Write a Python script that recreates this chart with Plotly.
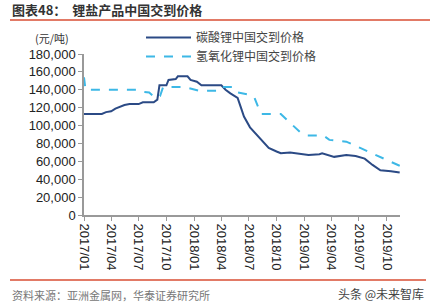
import plotly.graph_objects as go

# ---------------- data ----------------
carb_dates = ["2017-01-01", "2017-02-01", "2017-03-01", "2017-03-15", "2017-04-01", "2017-04-15",
              "2017-05-01", "2017-05-15", "2017-06-01", "2017-07-01", "2017-07-15", "2017-08-20",
              "2017-09-01", "2017-09-08", "2017-10-01", "2017-10-08", "2017-11-01", "2017-11-08",
              "2017-12-10", "2017-12-20", "2018-01-10", "2018-01-25", "2018-04-01", "2018-04-15",
              "2018-05-01", "2018-05-25", "2018-06-05", "2018-06-15", "2018-07-05", "2018-08-01",
              "2018-08-10", "2018-09-05", "2018-10-01", "2018-10-15", "2018-11-15", "2019-01-15",
              "2019-02-20", "2019-03-01", "2019-04-10", "2019-05-20", "2019-06-20", "2019-07-20",
              "2019-08-15", "2019-09-10", "2019-10-15", "2019-11-01", "2019-11-13"]
carb_vals = [113000, 113000, 113000, 115000, 116000, 119000,
             121000, 123000, 124000, 124000, 126000, 126000,
             129000, 145000, 145000, 151000, 152000, 155000,
             155000, 151000, 149000, 145000, 145000, 140000,
             136000, 131000, 120000, 110000, 98000, 88000,
             84000, 75000, 71000, 69000, 70000, 67000,
             68000, 69000, 65000, 67000, 66000, 63000,
             56000, 50000, 49000, 48500, 47500]

hydr_dates = ["2017-01-01", "2017-01-06", "2017-03-01", "2017-05-01", "2017-07-01", "2017-07-10",
              "2017-08-05", "2017-08-25", "2017-09-10", "2017-09-20", "2017-12-01", "2018-01-15",
              "2018-03-30", "2018-04-05", "2018-05-10", "2018-05-20", "2018-07-10", "2018-07-20",
              "2018-08-10", "2018-08-20", "2018-10-15", "2018-11-15", "2018-12-20", "2019-01-10",
              "2019-03-05", "2019-03-25", "2019-05-20", "2019-07-05", "2019-09-10", "2019-11-13"]
hydr_vals = [154000, 140000, 140000, 140000, 140000, 138000,
             137000, 131000, 133000, 143000, 143000, 139000,
             139000, 143000, 143000, 137500, 134000, 131000,
             113000, 113000, 113000, 103000, 92000, 89000,
             89000, 84000, 82000, 75000, 65000, 55000]

tick_vals = ["2017-01-01", "2017-04-01", "2017-07-01", "2017-10-01", "2018-01-01", "2018-04-01",
             "2018-07-01", "2018-10-01", "2019-01-01", "2019-04-01", "2019-07-01", "2019-10-01"]
tick_text = ["2017/01", "2017/04", "2017/07", "2017/10", "2018/01", "2018/04",
             "2018/07", "2018/10", "2019/01", "2019/04", "2019/07", "2019/10"]

name_carb = "碳酸锂中国交到价格"
name_hydr = "氢氧化锂中国交到价格"

# ---------------- layout helpers ----------------
W, H = 434, 307
L, R, T, B = 84, 34, 54, 92
PW, PH = W - L - R, H - T - B
def px(x):
    return (x - L) / PW
def py(y):
    return (H - B - y) / PH

CJK = "Noto Sans CJK SC"
NUM = "Liberation Sans, Arial"

fig = go.Figure()
fig.add_trace(go.Scatter(x=carb_dates, y=carb_vals, mode="lines", name=name_carb,
                         line=dict(color="#2B4A85", width=2)))
fig.add_trace(go.Scatter(x=hydr_dates, y=hydr_vals, mode="lines", name=name_hydr,
                         line=dict(color="#3DB8E6", width=2, dash="dash")))

fig.update_layout(
    width=W, height=H,
    margin=dict(l=L, r=R, t=T, b=B),
    plot_bgcolor="white", paper_bgcolor="white",
    showlegend=True,
    legend=dict(x=px(141), y=py(23), xanchor="left", yanchor="top",
                bgcolor="rgba(0,0,0,0)", font=dict(family=CJK, size=12, color="#444"),
                tracegroupgap=0, itemwidth=45),
    xaxis=dict(type="date", range=["2017-01-01", "2019-11-14"],
               tickvals=tick_vals, ticktext=tick_text, tickangle=90,
               tickfont=dict(family=NUM, size=13, color="#222"),
               showgrid=False, zeroline=False, showline=True,
               linecolor="#999", linewidth=2, ticks="outside", ticklen=4,
               tickcolor="#999"),
    yaxis=dict(range=[0, 180000], tickvals=list(range(0, 180001, 20000)),
               tickformat=",", tickfont=dict(family=NUM, size=13, color="#222"),
               showgrid=False, zeroline=False, showline=True,
               linecolor="#999", linewidth=1.5, ticks="outside", ticklen=4,
               tickcolor="#999"),
    annotations=[
        dict(text="<b>图表48：  锂盐产品中国交到价格</b>", x=px(10), y=py(10),
             xref="paper", yref="paper", xanchor="left", yanchor="middle",
             showarrow=False, font=dict(family=CJK, size=13, color="#333")),
        dict(text="(元/吨)", x=px(52), y=py(38), xref="paper", yref="paper",
             xanchor="center", yanchor="middle", showarrow=False,
             font=dict(family=CJK, size=11, color="#333")),
        dict(text="资料来源：亚洲金属网，华泰证券研究所", x=px(10), y=py(295),
             xref="paper", yref="paper", xanchor="left", yanchor="middle",
             showarrow=False, font=dict(family=CJK, size=11, color="#777")),
        dict(text="头条 @未来智库", x=px(426), y=py(293),
             xref="paper", yref="paper", xanchor="right", yanchor="middle",
             showarrow=False, font=dict(family=CJK, size=12, color="#444")),
    ],
    shapes=[
        dict(type="line", xref="paper", yref="paper", x0=px(10), x1=px(430),
             y0=py(20), y1=py(20), line=dict(color="#E27A66", width=2)),
        dict(type="line", xref="paper", yref="paper", x0=px(10), x1=px(426),
             y0=py(280), y1=py(280), line=dict(color="#E27A66", width=2)),
    ],
)

fig.write_html("out.html")
